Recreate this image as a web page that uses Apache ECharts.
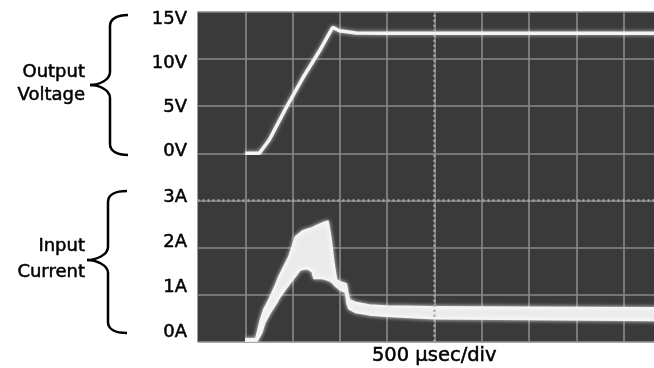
<!DOCTYPE html>
<html><head><meta charset="utf-8">
<script src="https://cdn.jsdelivr.net/npm/echarts@6/dist/echarts.min.js"></script>
<style>html,body{margin:0;padding:0;background:#fff}#c{width:654px;height:368px}</style>
</head><body><div id="c"></div>
<script>
// Time in microseconds (500 µs per division)
const voltageTime = [0, 148, 254, 430, 607, 782, 924, 994, 1170, 1500, 4500];
const voltageValues = [0, 0, 1.44, 4.81, 7.99, 10.83, 13.38, 13.01, 12.77, 12.74, 12.74];

const currentTime  = [0, 115, 170, 200, 254, 324, 359, 465, 536, 571, 607, 659, 712, 729, 818, 871, 900, 930, 960, 1012, 1064, 1082, 1100, 1170, 1310, 1490, 2000, 3000, 4500];
const currentUpper = [0.05, 0.05, 0.5, 0.68, 0.89, 1.2, 1.38, 1.80, 2.23, 2.28, 2.34, 2.38, 2.41, 2.43, 2.51, 2.55, 2.2, 1.7, 1.31, 1.25, 1.22, 1.0, 0.88, 0.82, 0.77, 0.75, 0.73, 0.72, 0.71];
const currentLower = [0, 0, 0.2, 0.4, 0.6, 0.82, 0.95, 1.24, 1.42, 1.52, 1.55, 1.56, 1.49, 1.35, 1.35, 1.32, 1.3, 1.25, 1.18, 1.1, 1.05, 0.8, 0.7, 0.63, 0.58, 0.55, 0.5, 0.48, 0.46];

const voltageTickLabels = {0: '0V', 5: '5V', 10: '10V', 15: '15V'};
const currentTickLabels = {0: '0A', 1: '1A', 2: '2A', 3: '3A'};
const xAxisTitle = '500 µsec/div';
const voltageTitle = ['Output', 'Voltage'];
const currentTitle = ['Input', 'Current'];

const FONT = '"DejaVu Sans", sans-serif';
const gridColor = '#8a8a8a';
const traceColor = '#f4f4f4';
const glow = 'rgba(255,255,255,0.7)';

const chart = echarts.init(document.getElementById('c'), null, {renderer: 'canvas'});
const hidden = {axisLine: {show: false}, axisTick: {show: false}, axisLabel: {show: false}, splitLine: {show: false}};
const textBold = {textBorderColor: '#000', textBorderWidth: 0.5};

// curly brace built from bezier curves and lines (layout only)
function brace(xTip, xBar, xMid, yTop, yMid, yBot) {
  const st = {stroke: '#000', lineWidth: 2.5, fill: 'none'};
  const r = 11;
  return [
    {type: 'bezierCurve', shape: {x1: xTip, y1: yTop, cpx1: xBar + 7, cpy1: yTop, cpx2: xBar, cpy2: yTop + 4, x2: xBar, y2: yTop + r}, style: st},
    {type: 'line', shape: {x1: xBar, y1: yTop + r, x2: xBar, y2: yMid - 13}, style: st},
    {type: 'bezierCurve', shape: {x1: xBar, y1: yMid - 13, cpx1: xBar, cpy1: yMid - 5, cpx2: xMid + 9, cpy2: yMid, x2: xMid, y2: yMid}, style: st},
    {type: 'bezierCurve', shape: {x1: xMid, y1: yMid, cpx1: xMid + 9, cpy1: yMid, cpx2: xBar, cpy2: yMid + 5, x2: xBar, y2: yMid + 13}, style: st},
    {type: 'line', shape: {x1: xBar, y1: yMid + 13, x2: xBar, y2: yBot - r}, style: st},
    {type: 'bezierCurve', shape: {x1: xBar, y1: yBot - r, cpx1: xBar, cpy1: yBot - 4, cpx2: xBar + 7, cpy2: yBot, x2: xTip, y2: yBot}, style: st}
  ];
}
function label(text, x, y) {
  return {type: 'text', style: Object.assign({text: text, x: x, y: y, textAlign: 'right', align: 'right',
    textVerticalAlign: 'middle', verticalAlign: 'middle', font: '18px ' + FONT, fill: '#000',
    stroke: '#000', lineWidth: 0.5})};
}

const G = {outerBoundsMode: 'none', containLabel: false};
const option = {
  animation: false,
  backgroundColor: '#ffffff',
  grid: [
    Object.assign({left: 197.5, top: 12, width: 473.5, height: 329.7, show: true, backgroundColor: '#3a3a3a', borderWidth: 0}, G),
    Object.assign({left: 245.3, top: 12, width: 425.7, height: 329.7}, G),
    Object.assign({left: 245.3, top: 12, width: 425.7, height: 141.3}, G),
    Object.assign({left: 245.3, top: 200.4, width: 425.7, height: 141.3}, G),
    Object.assign({left: 197, top: 19.7, width: 100, height: 131.3}, G),
    Object.assign({left: 197, top: 197.5, width: 100, height: 135}, G)
  ],
  xAxis: [
    Object.assign({gridIndex: 0, type: 'value', min: -500, max: 4500, interval: 500,
      name: xAxisTitle, nameLocation: 'middle', nameGap: 4,
      nameTextStyle: Object.assign({fontFamily: FONT, fontSize: 19.5, color: '#000', verticalAlign: 'top'}, textBold)}, hidden),
    Object.assign({gridIndex: 1, type: 'value', min: 0, max: 4500, interval: 500}, hidden,
      {splitLine: {show: true, lineStyle: {color: gridColor, width: 1.6}}}),
    {gridIndex: 2, type: 'value', min: 0, max: 4500, show: false},
    {gridIndex: 3, type: 'value', min: 0, max: 4500, show: false},
    {gridIndex: 4, type: 'value', min: 0, max: 1, show: false},
    {gridIndex: 5, type: 'value', min: 0, max: 1, show: false}
  ],
  yAxis: [
    Object.assign({gridIndex: 0, type: 'value', min: 0, max: 7, interval: 1}, hidden,
      {splitLine: {show: true, lineStyle: {color: gridColor, width: 1.6}}}),
    {gridIndex: 1, type: 'value', min: 0, max: 7, show: false},
    {gridIndex: 2, type: 'value', min: 0, max: 15, show: false},
    {gridIndex: 3, type: 'value', min: 0, max: 3, show: false},
    {gridIndex: 4, type: 'value', min: 0, max: 15, interval: 5,
      axisLine: {show: false}, axisTick: {show: false}, splitLine: {show: false},
      axisLabel: Object.assign({margin: 10, fontFamily: FONT, fontSize: 18, color: '#000',
        formatter: v => voltageTickLabels[v] || ''}, textBold)},
    {gridIndex: 5, type: 'value', min: 0, max: 3, interval: 1,
      axisLine: {show: false}, axisTick: {show: false}, splitLine: {show: false},
      axisLabel: Object.assign({margin: 10, fontFamily: FONT, fontSize: 18, color: '#000',
        formatter: v => currentTickLabels[v] || ''}, textBold)}
  ],
  series: [
    {type: 'line', xAxisIndex: 0, yAxisIndex: 0, data: [], silent: true,
      markLine: {silent: true, symbol: 'none', label: {show: false},
        lineStyle: {color: '#a8a8a8', type: [2, 3], width: 2.5},
        data: [{yAxis: 3}, {xAxis: 2000}]}},
    {type: 'line', xAxisIndex: 4, yAxisIndex: 4, data: [], silent: true},
    {type: 'line', xAxisIndex: 5, yAxisIndex: 5, data: [], silent: true},
    {name: 'Output Voltage', type: 'line', xAxisIndex: 2, yAxisIndex: 2, symbol: 'none',
      data: voltageTime.map((t, i) => [t, voltageValues[i]]),
      lineStyle: {color: traceColor, width: 3.5, shadowBlur: 4, shadowColor: glow}},
    {name: 'Input Current', type: 'custom', xAxisIndex: 3, yAxisIndex: 3, clip: true,
      data: currentTime.map((t, i) => [t, currentUpper[i], currentLower[i]]),
      encode: {x: 0, y: [1, 2]},
      renderItem: function (params, api) {
        if (params.dataIndex !== 0) return null;
        const upper = currentTime.map((t, i) => api.coord([t, currentUpper[i]]));
        const lower = currentTime.map((t, i) => api.coord([t, currentLower[i]])).reverse();
        return {type: 'polygon', shape: {points: upper.concat(lower)},
          style: {fill: '#ebebeb', stroke: traceColor, lineWidth: 2.5, lineJoin: 'round', shadowBlur: 4, shadowColor: glow}};
      }}
  ],
  graphic: [].concat(
    brace(128, 110, 90, 15, 85, 155),
    brace(127, 108, 87, 191, 260, 333),
    [label(voltageTitle[0], 85, 72), label(voltageTitle[1], 85, 95),
     label(currentTitle[0], 85, 246), label(currentTitle[1], 85, 272)]
  )
};
chart.setOption(option);
</script>
</body></html>
